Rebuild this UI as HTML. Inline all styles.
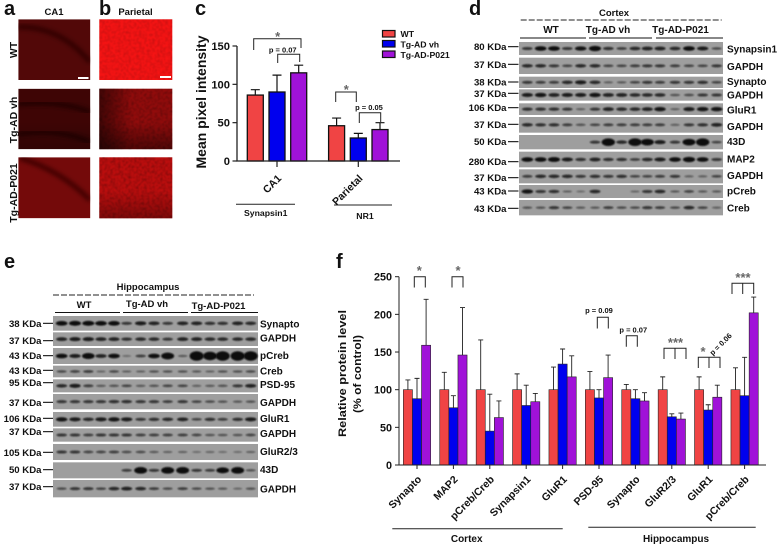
<!DOCTYPE html>
<html lang="en">
<head>
<meta charset="utf-8">
<title>Multi-panel figure</title>
<style>
html,body{margin:0;padding:0;background:#fff;}
svg{display:block;}
text{font-family:"Liberation Sans",sans-serif;font-weight:bold;fill:#111;}
</style>
</head>
<body>
<svg id="fig" xmlns="http://www.w3.org/2000/svg" width="778" height="546" viewBox="0 0 778 546">
<defs>
<filter id="blur" x="-30%" y="-60%" width="160%" height="220%"><feGaussianBlur stdDeviation="0.85"/></filter>
<filter id="soft" x="-10%" y="-10%" width="120%" height="120%"><feGaussianBlur stdDeviation="2.2"/></filter>
<filter id="speckle" x="0" y="0" width="100%" height="100%">
<feTurbulence type="fractalNoise" baseFrequency="0.38" numOctaves="2" seed="4"/>
<feColorMatrix type="matrix" values="0 0 0 0 0  0 0 0 0 0  0 0 0 0 0  2 0 0 0 -0.75"/>
<feGaussianBlur stdDeviation="0.5"/>
</filter>
<linearGradient id="edgeL" x1="0" x2="1" y1="0" y2="0"><stop offset="0" stop-color="#000" stop-opacity=".55"/><stop offset=".45" stop-color="#000" stop-opacity="0"/></linearGradient>
<linearGradient id="edgeB" x1="0" x2="0" y1="0" y2="1"><stop offset=".55" stop-color="#000" stop-opacity="0"/><stop offset="1" stop-color="#000" stop-opacity=".45"/></linearGradient>
<clipPath id="clipA3"><rect x="18.3" y="157.3" width="72" height="61"/></clipPath>
<clipPath id="clipA2"><rect x="18.3" y="88.7" width="72" height="60.5"/></clipPath>
<clipPath id="clipA1"><rect x="18.3" y="19.3" width="72" height="60.7"/></clipPath>
</defs>

<!-- panel letters -->
<g style="font-size:20px">
<text x="4" y="15" style="font-size:20px">a</text>
<text x="99" y="15" style="font-size:20px">b</text>
<text x="195" y="15" style="font-size:20px">c</text>
<text x="469" y="15" style="font-size:20px">d</text>
<text x="4" y="268" style="font-size:20px">e</text>
<text x="336" y="268" style="font-size:20px">f</text>
</g>

<!-- panels a/b images -->
<g id="micrographs">
<text x="54" y="15" text-anchor="middle" font-size="9.5">CA1</text>
<text x="135.5" y="15" text-anchor="middle" font-size="9.5">Parietal</text>
<text transform="translate(17,50) rotate(-90)" text-anchor="middle" font-size="10.5">WT</text>
<text transform="translate(17,120) rotate(-90)" text-anchor="middle" font-size="10.5">Tg-AD vh</text>
<text transform="translate(17,193) rotate(-90)" text-anchor="middle" font-size="10.5">Tg-AD-P021</text>

<g clip-path="url(#clipA1)">
<rect x="18.3" y="19.3" width="72" height="60.7" fill="#520808"/>
<path d="M18 27 Q60 26 90 62" fill="none" stroke="#300404" stroke-width="5" filter="url(#soft)"/>
</g>
<g clip-path="url(#clipA2)">
<rect x="18.3" y="88.7" width="72" height="60.5" fill="#3e0505"/>
<path d="M18 104 Q60 100 90 112" fill="none" stroke="#240303" stroke-width="5" filter="url(#soft)"/>
<path d="M18 134 Q60 128 90 142" fill="none" stroke="#200303" stroke-width="5" filter="url(#soft)"/>
<rect x="18.3" y="88.7" width="72" height="60.5" fill="url(#edgeB)" opacity=".5"/>
</g>
<g clip-path="url(#clipA3)">
<rect x="18.3" y="157.3" width="72" height="61" fill="#740a0a"/>
<path d="M20 158 Q60 170 90 200" fill="none" stroke="#420505" stroke-width="5" filter="url(#soft)"/>
</g>
<g>
<rect x="99.3" y="19.3" width="73" height="60.7" fill="#f41414"/>
<rect x="99.3" y="19.3" width="73" height="60.7" filter="url(#speckle)" opacity=".18"/>
</g>
<g>
<rect x="99.3" y="88.7" width="73" height="60.5" fill="#920c0c"/>
<rect x="99.3" y="88.7" width="73" height="60.5" filter="url(#speckle)" opacity=".3"/>
<rect x="99.3" y="88.7" width="73" height="60.5" fill="url(#edgeL)"/>
<rect x="99.3" y="88.7" width="73" height="60.5" fill="url(#edgeB)"/>
</g>
<g>
<rect x="99.3" y="157.3" width="73" height="61" fill="#bc0e0e"/>
<rect x="99.3" y="157.3" width="73" height="61" filter="url(#speckle)" opacity=".3"/>
<rect x="99.3" y="157.3" width="73" height="61" fill="url(#edgeB)" opacity=".7"/>
</g>
<rect x="78" y="77" width="10.5" height="2" fill="#fff"/>
<rect x="160" y="76" width="11" height="2" fill="#fff"/>
</g>

<!-- panel c static -->
<g id="chartC">
<text transform="translate(206,102) rotate(-90)" text-anchor="middle" font-size="14" textLength="133" lengthAdjust="spacingAndGlyphs">Mean pixel intensity</text>
<g id="cMarks"></g>
<g fill="none" stroke="#222" stroke-width="1">
<path d="M253.7 50V38.7H301V48"/>
<path d="M277.7 63V54.3H299.7V62"/>
<path d="M335.7 102V92H356.3V102"/>
<path d="M359.3 123V112.7H380.7V122"/>
</g>
<text x="277.7" y="41" text-anchor="middle" font-size="13" style="fill:#666">*</text>
<text x="346.3" y="94" text-anchor="middle" font-size="13" style="fill:#666">*</text>
<text x="282.7" y="52.5" text-anchor="middle" font-size="7.5">p = 0.07</text>
<text x="369" y="110" text-anchor="middle" font-size="7.5">p = 0.05</text>
<path d="M236 204.3H295" stroke="#222" stroke-width="1"/>
<path d="M334 205H392" stroke="#222" stroke-width="1"/>
<text x="265.7" y="216" text-anchor="middle" font-size="8.7">Synapsin1</text>
<text x="365" y="219" text-anchor="middle" font-size="8.7">NR1</text>
<g>
<rect x="382.5" y="30.5" width="12.5" height="6.5" fill="#f04444" stroke="#111" stroke-width="1.2"/>
<rect x="382.5" y="40.5" width="12.5" height="6.5" fill="#0000ee" stroke="#111" stroke-width="1.2"/>
<rect x="382.5" y="51" width="12.5" height="6.5" fill="#a012d8" stroke="#111" stroke-width="1.2"/>
<text x="400.5" y="37" font-size="8.7">WT</text>
<text x="400.5" y="47.5" font-size="8.7">Tg-AD vh</text>
<text x="400.5" y="58" font-size="8.7">Tg-AD-P021</text>
</g>
</g>

<!-- panel d static -->
<g>
<text x="614" y="16" text-anchor="middle" font-size="9.5">Cortex</text>
<path d="M520.7 20H721.7" stroke="#222" stroke-width="1.1" stroke-dasharray="6 2"/>
<text x="551" y="33" text-anchor="middle" font-size="10">WT</text>
<text x="608" y="33" text-anchor="middle" font-size="10">Tg-AD vh</text>
<text x="680.5" y="33" text-anchor="middle" font-size="10">Tg-AD-P021</text>
<path d="M520 38H586M589 38H652M656 38H723" stroke="#111" stroke-width="1"/>
<g id="blotD"></g>
</g>

<!-- panel e static -->
<g>
<text x="148" y="290" text-anchor="middle" font-size="9.5">Hippocampus</text>
<path d="M53 295H254" stroke="#222" stroke-width="1.1" stroke-dasharray="6 2"/>
<text x="84" y="308" text-anchor="middle" font-size="9.5">WT</text>
<text x="147" y="307" text-anchor="middle" font-size="9.5">Tg-AD vh</text>
<text x="218.5" y="309" text-anchor="middle" font-size="9.5">Tg-AD-P021</text>
<path d="M55 312.5H120M123 312.5H188M191 312.5H258" stroke="#111" stroke-width="1"/>
<g id="blotE"></g>
</g>

<!-- panel f -->
<g>
<text transform="translate(346,373.5) rotate(-90)" text-anchor="middle" font-size="11" textLength="127" lengthAdjust="spacingAndGlyphs">Relative protein level</text>
<text transform="translate(361,374) rotate(-90)" text-anchor="middle" font-size="11" textLength="78" lengthAdjust="spacingAndGlyphs">(% of control)</text>
<g id="fMarks"></g>
<g fill="none" stroke="#222" stroke-width="1">
<path d="M414.3 287.5V276.7H425.3V287.5"/>
<path d="M452 287.5V276.7H463V287.5"/>
<path d="M597.3 328.5V317.3H608.3V328.5"/>
<path d="M626.3 346.7V335.7H637.3V346.7"/>
<path d="M664 359V348.3H686V359M675 348.3V359"/>
<path d="M698.3 368V357.3H720V368M709 357.3V368"/>
<path d="M732 294V283.3H753.7V294M742.7 283.3V294"/>
</g>
<g style="fill:#666" font-size="13" text-anchor="middle">
<text x="419.3" y="275" style="fill:#666">*</text>
<text x="458" y="275" style="fill:#666">*</text>
<text x="675.5" y="347" style="fill:#666">***</text>
<text x="703" y="356" style="fill:#666">*</text>
<text x="743" y="282" style="fill:#666">***</text>
</g>
<text x="599" y="313" text-anchor="middle" font-size="7.5">p = 0.09</text>
<text x="633.3" y="332.5" text-anchor="middle" font-size="7.5">p = 0.07</text>
<text transform="translate(722.5,346) rotate(-45)" text-anchor="middle" font-size="7.5">p = 0.06</text>
<path d="M392.3 528.7H562.7" stroke="#222" stroke-width="1"/>
<path d="M588.3 527.3H755.7" stroke="#222" stroke-width="1"/>
<text x="466.7" y="542" text-anchor="middle" font-size="10">Cortex</text>
<text x="676" y="542" text-anchor="middle" font-size="10">Hippocampus</text>
</g>
</svg>

<script>
/* ---------- panel c data ---------- */
const cCategories = ['CA1', 'Parietal'];
const cTicks = [0, 50, 100, 150];
const cWT = [86, 46];
const cVh = [90, 30];
const cP021 = [115, 41];
const cWTErr = [93, 56];
const cVhErr = [112, 36];
const cP021Err = [125, 50];

/* ---------- panel f data ---------- */
const fCategories = ['Synapto', 'MAP2', 'pCreb/Creb', 'Synapsin1', 'GluR1', 'PSD-95', 'Synapto', 'GluR2/3', 'GluR1', 'pCreb/Creb'];
const fTicks = [0, 50, 100, 150, 200, 250];
const fWT = [100, 100, 100, 100, 100, 100, 100, 100, 100, 100];
const fVh = [88, 76, 45, 79, 134, 89, 88, 64, 73, 92];
const fP021 = [159, 146, 63, 84, 117, 116, 85, 61, 90, 202];
const fWTErr = [113, 123, 166, 121, 130, 124, 107, 117, 117, 129];
const fVhErr = [115, 92, 94, 106, 154, 100, 100, 68, 80, 143];
const fP021Err = [220, 209, 85, 95, 145, 146, 96, 69, 106, 223];

/* ---------- blot data (band strength per lane) ---------- */
const dLabels = ['Synapsin1', 'GAPDH', 'Synapto', 'GAPDH', 'GluR1', 'GAPDH', '43D', 'MAP2', 'GAPDH', 'pCreb', 'Creb'];
const dWeights = ['80 KDa', '37 KDa', '38 KDa', '37 KDa', '106 KDa', '37 KDa', '50 KDa', '280 KDa', '37 KDa', '43 KDa', '43 KDa'];
const dBands = [
  [.6,.9,.9,.6,.85,1,.65,.55,.7,.75,.75,.7,.9,.8,.45],
  [.7,.7,.6,.5,.7,.7,.5,.5,.55,.6,.6,.55,.5,.5,.6],
  [.6,.55,.55,.7,.8,.7,.3,.35,.5,.6,.55,.6,.6,.65,.5],
  [.8,.85,.75,.8,.8,.85,.75,.75,.7,.7,.7,.4,.45,.6,.6],
  [.65,.65,.65,.6,.3,.6,.75,.7,.7,.75,.85,.3,.8,.85,.85],
  [.7,.65,.65,.55,.4,.5,.55,.55,.55,.55,.55,.3,.6,.65,.75],
  [0,0,0,0,0,.6,1.3,.7,1.3,1.2,.8,.6,1.2,1.3,.5],
  [.9,.9,.95,.8,.65,.75,.65,.65,.55,.7,.8,.9,1,.9,.6],
  [.55,.7,.7,.7,.6,.65,.6,.65,.5,.5,.55,.6,.3,.3,.5],
  [.85,.6,.65,.3,.2,.7,0,0,.25,.6,.7,.35,.5,.35,.35],
  [.4,.4,.6,.5,.35,.35,.55,.45,.45,.6,.55,.45,.7,.5,.3]
];
const eLabels = ['Synapto', 'GAPDH', 'pCreb', 'Creb', 'PSD-95', 'GAPDH', 'GluR1', 'GAPDH', 'GluR2/3', '43D', 'GAPDH'];
const eWeights = ['38 KDa', '37 KDa', '43 KDa', '43 KDa', '95 KDa', '37 KDa', '106 KDa', '37 KDa', '105 KDa', '50 KDa', '37 KDa'];
const eBands = [
  [.9,.95,.95,.9,.9,.6,.8,.75,.6,.75,.75,.65,.65,.75,.7],
  [.75,.8,.8,.75,.75,.65,.7,.7,.6,.75,.75,.7,.7,.7,.7],
  [.9,.8,1.1,.75,.9,.2,.55,.9,1.2,.35,1.5,1.4,1.5,1.5,1.5],
  [.45,.5,.55,.25,.45,.3,.3,.4,.4,.4,.35,.3,.4,.4,.45],
  [.7,.8,.55,.35,.4,.5,.35,.4,.5,.5,.3,.35,.4,.6,.75],
  [.6,.6,.6,.6,.65,.65,.6,.6,.55,.6,.5,.45,.4,.35,.4],
  [.85,.8,.7,.8,.85,.8,.6,.65,.7,.75,.5,.65,.55,.65,.8],
  [.6,.6,.55,.6,.6,.6,.55,.55,.55,.55,.5,.4,.4,.4,.5],
  [.6,.6,.5,.5,.55,.45,.45,.35,.3,.3,.2,.25,.2,.2,.3],
  [0,0,0,0,0,.55,1.2,.6,1.2,1.2,.6,.55,1.1,1.2,.4],
  [.45,.6,.6,.5,.7,.75,.7,.55,.45,.55,.45,.4,.35,.25,.4]
];

/* ---------- layout (not data) ---------- */
const SVGNS = 'http://www.w3.org/2000/svg';
function mk(tag, parent, attrs) {
  const el = document.createElementNS(SVGNS, tag);
  for (const k in attrs) el.setAttribute(k, attrs[k]);
  parent.appendChild(el);
  return el;
}
const RED = '#f04444', BLUE = '#0000ee', PURPLE = '#a012d8';

/* panel c */
(function () {
  const g = document.getElementById('cMarks');
  const y = v => 161 - v * (115 / 150);
  const groupX = i => 277 + i * 81.3;
  const bw = 16, gap = 21.7;
  const seriesVals = [cWT, cVh, cP021];
  const seriesErr = [cWTErr, cVhErr, cP021Err];
  const colors = [RED, BLUE, PURPLE];
  cCategories.forEach((cat, i) => {
    seriesVals.forEach((vals, s) => {
      const cx = groupX(i) + (s - 1) * gap;
      const err = mk('path', g, { d: `M${cx} ${y(vals[i])}V${y(seriesErr[s][i])}M${cx - 4.5} ${y(seriesErr[s][i])}H${cx + 4.5}`, stroke: '#111', 'stroke-width': 1.2, fill: 'none' });
      
      
      const bar = mk('rect', g, { x: cx - bw / 2, y: y(vals[i]), width: bw, height: y(0) - y(vals[i]), fill: colors[s], stroke: '#111', 'stroke-width': 1.3 });
      
      
    });
    const tick = mk('path', g, { d: `M${groupX(i)} 161V167`, stroke: '#222', 'stroke-width': 1.2 });
    
    
    const lbl = mk('text', g, { transform: `translate(${groupX(i) + 5},179) rotate(-45)`, 'text-anchor': 'end', 'font-size': 10.5 });
    lbl.textContent = cat;
    
    
  });
  const axis = mk('path', g, { d: `M237 ${y(150)}V161H400`, stroke: '#222', 'stroke-width': 1.3, fill: 'none' });
  
  
  cTicks.forEach(t => {
    const tick = mk('path', g, { d: `M232.5 ${y(t)}H237`, stroke: '#222', 'stroke-width': 1.2 });
    
    
    const lbl = mk('text', g, { x: 230, y: y(t) + 4, 'text-anchor': 'end', 'font-size': 11.2 });
    lbl.textContent = t;
    
    
  });
})();

/* panel f */
(function () {
  const g = document.getElementById('fMarks');
  const y = v => 465 - v * (188.3 / 250);
  const groupX = i => 417 + i * 36.4;
  const bw = 9.1;
  const seriesVals = [fWT, fVh, fP021];
  const seriesErr = [fWTErr, fVhErr, fP021Err];
  const colors = [RED, BLUE, PURPLE];
  fCategories.forEach((cat, i) => {
    seriesVals.forEach((vals, s) => {
      const cx = groupX(i) + (s - 1) * bw;
      const err = mk('path', g, { d: `M${cx} ${y(vals[i])}V${y(seriesErr[s][i])}M${cx - 2.5} ${y(seriesErr[s][i])}H${cx + 2.5}`, stroke: '#222', 'stroke-width': 0.9, fill: 'none' });
      
      
    });
    seriesVals.forEach((vals, s) => {
      const cx = groupX(i) + (s - 1) * bw;
      const bar = mk('rect', g, { x: cx - bw / 2, y: y(vals[i]), width: bw, height: y(0) - y(vals[i]), fill: colors[s], stroke: '#222', 'stroke-width': 0.6 });
      
      
    });
    const tick = mk('path', g, { d: `M${groupX(i)} 465V469`, stroke: '#222', 'stroke-width': 1 });
    
    
    const lbl = mk('text', g, { transform: `translate(${groupX(i) + 5},480) rotate(-45)`, 'text-anchor': 'end', 'font-size': 10.5 });
    lbl.textContent = cat;
    
    
  });
  const axis = mk('path', g, { d: `M399 ${y(250)}V465H766`, stroke: '#222', 'stroke-width': 1, fill: 'none' });
  
  
  fTicks.forEach(t => {
    const tick = mk('path', g, { d: `M395 ${y(t)}H399`, stroke: '#222', 'stroke-width': 1 });
    
    
    const lbl = mk('text', g, { x: 392, y: y(t) + 4, 'text-anchor': 'end', 'font-size': 10.8 });
    lbl.textContent = t;
    
    
  });
})();

/* blots */
function drawBlot(g, cfg) {
  const rows = cfg.bands;
  rows.forEach((lanes, r) => {
    const top = cfg.rowBox[r][0], h = cfg.rowBox[r][1] - cfg.rowBox[r][0];
    const strip = mk('rect', g, { x: cfg.x0, y: top, width: cfg.x1 - cfg.x0, height: h, fill: '#9e9e9e' });
    
    
    const cy = top + h / 2;
    lanes.forEach((v, l) => {
      if (v <= 0) return;
      const rx = 4.2 + Math.min(v, 1.5) * 1.9;
      const ry = 0.9 + v * v * 1.7;
      const band = mk('ellipse', g, { cx: cfg.lanes[l], cy: cy, rx: rx, ry: Math.min(ry, h / 2 - .5), fill: '#0a0a0a', opacity: Math.min(1, .18 + v * .9), filter: 'url(#blur)' });
      
      
    });
    const tk = mk('path', g, { d: `M${cfg.tick[0]} ${cfg.weightY[r] - 3.5}H${cfg.tick[1]}`, stroke: '#111', 'stroke-width': 1.1 });
    
    
    const wl = mk('text', g, { x: cfg.tick[0] - 1.5, y: cfg.weightY[r], 'text-anchor': 'end', 'font-size': 9.6 });
    wl.textContent = cfg.weights[r];
    
    
    const nl = mk('text', g, { x: cfg.labelX, y: cfg.labelY[r], 'font-size': 10 });
    nl.textContent = cfg.labels[r];
    
    
  });
}
const dLanes = [292,332,372,412,452,495,535,575,615,652,690,735,777,818,860].map(z => 430 + z / 3);
const eLanes = [185,225,265,303,342,380,422,462,503,548,590,630,668,713,752].map(z => z / 3);
drawBlot(document.getElementById('blotD'), {
  x0: 519, x1: 723, tick: [508, 518.5], labelX: 727, lanes: dLanes,
  bands: dBands, labels: dLabels, weights: dWeights,
  rowBox: [[126,165],[173,222],[230,264],[268,302],[310,345],[351,398],[405,448],[455,502],[508,550],[555,594],[600,646]].map(p => [p[0] / 3, p[1] / 3]),
  weightY: [140,193,246,280,323,373,425,485,533,573,625].map(z => z / 3 + 3.5),
  labelY: [147,200,245,285,330,380,425,477,527,573,624].map(z => z / 3 + 3.5)
});
drawBlot(document.getElementById('blotE'), {
  x0: 53, x1: 258, tick: [43, 53], labelX: 260, lanes: eLanes,
  bands: eBands, labels: eLabels, weights: eWeights,
  rowBox: [[198,242],[247,288],[294,342],[347,382],[388,427],[432,478],[486,530],[535,575],[582,630],[637,685],[690,742]].map(p => [250 + p[0] / 3, 250 + p[1] / 3]),
  weightY: [220,272,317,361,398,457,505,545,607,659,710].map(z => 250 + z / 3 + 3.5),
  labelY: [222,264,316,363,404,458,506,551,604,658,717].map(z => 250 + z / 3 + 3.5)
});
</script>
</body>
</html>
